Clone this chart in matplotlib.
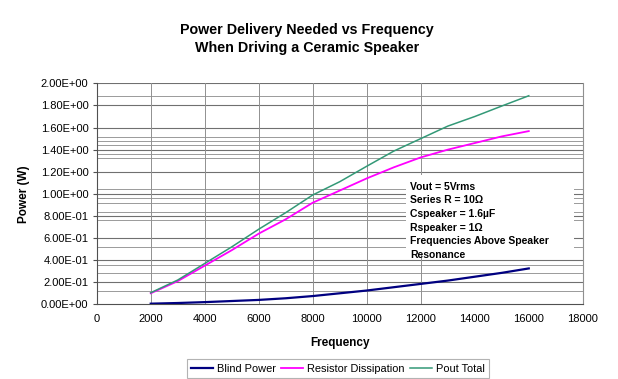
import matplotlib
matplotlib.use("Agg")
import matplotlib.pyplot as plt
from matplotlib.patches import Rectangle

plt.rcParams['font.family'] = ['Liberation Sans', 'DejaVu Sans']

freq = [2000, 3000, 4000, 5000, 6000, 7000, 8000, 9000, 10000,
        11000, 12000, 13000, 14000, 15000, 16000]
blind_power = [0.006, 0.012, 0.02, 0.03, 0.04, 0.055, 0.075, 0.10, 0.125,
               0.155, 0.185, 0.215, 0.25, 0.285, 0.325]
resistor_diss = [0.10, 0.21, 0.35, 0.49, 0.64, 0.77, 0.92, 1.03, 1.14,
                 1.24, 1.33, 1.40, 1.46, 1.52, 1.568]
pout_total = [0.105, 0.22, 0.37, 0.52, 0.68, 0.83, 0.99, 1.11, 1.25,
              1.387, 1.50, 1.613, 1.70, 1.795, 1.888]

y_ticks = [0.0, 0.2, 0.4, 0.6, 0.8, 1.0, 1.2, 1.4, 1.6, 1.8, 2.0]
y_labels = ['0.00E+00', '2.00E-01', '4.00E-01', '6.00E-01', '8.00E-01',
            '1.00E+00', '1.20E+00', '1.40E+00', '1.60E+00', '1.80E+00', '2.00E+00']
x_ticks = list(range(0, 18001, 2000))
x_grid = [2000, 4000, 6000, 8000, 10000, 12000]
# faint extra rules seen in the scanned original
extra_grid = [1.885, 1.517, 1.481, 1.439, 1.357, 1.321, 1.044, 0.959, 0.920,
              0.839, 0.760, 0.522, 0.356, 0.281, 0.118]

note = ("Vout = 5Vrms\nSeries R = 10\u03a9\nCspeaker = 1.6\u00b5F\n"
        "Rspeaker = 1\u03a9\nFrequencies Above Speaker\nResonance")

fig = plt.figure(figsize=(6.18, 3.79), dpi=100)
ax = fig.add_axes([0.1565, 0.197, 0.7865, 0.583])

for y in y_ticks[1:]:
    ax.axhline(y, color='#707070', lw=0.8, zorder=1)
for y in extra_grid:
    ax.axhline(y, color='#9a9a9a', lw=0.7, zorder=1)
for x in x_grid:
    ax.axvline(x, color='#909090', lw=0.7, zorder=1)

# white box behind the annotation
ax.add_patch(Rectangle((11460, 0.45), 6200, 0.72, facecolor='white',
                       edgecolor='none', zorder=2))
ax.text(11600, 1.11, note, fontsize=7.5, fontweight='bold', va='top',
        ha='left', linespacing=1.45, zorder=4)

ax.plot(freq, blind_power, color='#000080', lw=1.6, label='Blind Power', zorder=3)
ax.plot(freq, resistor_diss, color='#ff00ff', lw=1.3, label='Resistor Dissipation', zorder=3)
ax.plot(freq, pout_total, color='#339977', lw=1.1, label='Pout Total', zorder=3)

ax.set_xlim(0, 18000)
ax.set_ylim(0, 2.0)
ax.set_xticks(x_ticks)
ax.set_xticklabels([str(v) for v in x_ticks], fontsize=8)
ax.set_yticks(y_ticks)
ax.set_yticklabels(y_labels, fontsize=8)
ax.tick_params(axis='y', length=3, color='#505050', pad=3)
ax.tick_params(axis='x', length=0, pad=7)
ax.spines['top'].set_visible(False)
ax.spines['right'].set_color('#909090')
ax.spines['left'].set_color('#505050')
ax.spines['bottom'].set_color('#505050')

ax.set_xlabel('Frequency', fontsize=8.5, fontweight='bold', labelpad=9)
ax.set_ylabel('Power (W)', fontsize=8.5, fontweight='bold', labelpad=8)

fig.suptitle('Power Delivery Needed vs Frequency\nWhen Driving a Ceramic Speaker',
             x=0.497, y=0.94, fontsize=10.3, fontweight='bold', linespacing=1.35)

leg = fig.legend(loc='lower center', bbox_to_anchor=(0.547, -0.012), ncol=3,
                 fontsize=7.9, frameon=True, fancybox=False, handlelength=2.0,
                 handletextpad=0.35, columnspacing=0.5, borderpad=0.4)
leg.get_frame().set_edgecolor('#a0a0a0')
leg.get_frame().set_linewidth(0.8)

fig.savefig('out.png', dpi=100)
